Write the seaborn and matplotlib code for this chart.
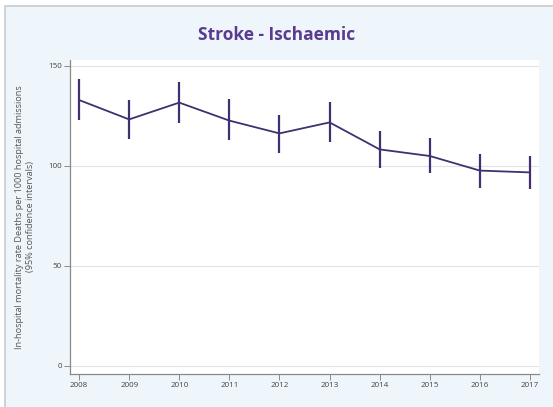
import matplotlib
matplotlib.use("Agg")
import pandas as pd
import seaborn as sns
import matplotlib.pyplot as plt
from matplotlib.patches import Rectangle

years = [2008, 2009, 2010, 2011, 2012, 2013, 2014, 2015, 2016, 2017]
rate = [133.0, 123.3, 131.7, 122.7, 116.3, 121.8, 108.3, 105.0, 97.7, 96.8]
ci_low = [122.8, 113.3, 121.7, 113.0, 106.7, 112.2, 98.8, 96.3, 88.8, 88.5]
ci_high = [143.5, 133.0, 141.8, 133.3, 125.5, 132.2, 117.5, 113.8, 106.0, 105.0]
y_ticks = [0, 50, 100, 150]

df = pd.DataFrame({"year": years, "rate": rate,
                   "low": ci_low, "high": ci_high})

sns.set_style("white")
plt.rcParams['font.family'] = ['Open Sans', 'DejaVu Sans']

LINE = '#40306f'
PANEL = '#eef6fc'

fig = plt.figure(figsize=(5.53, 4.07), dpi=100)
fig.patch.set_facecolor('white')

ax = fig.add_axes([70 / 553, 33 / 407, 469 / 553, 314 / 407])
ax.set_facecolor('white')
ax.set_zorder(2)

# light blue panel with thin grey border, behind the axes
fig.patches.append(Rectangle((5 / 553, -0.02), 1.0, 401 / 407 + 0.02,
                             transform=fig.transFigure, facecolor=PANEL,
                             edgecolor='#c8cbcf', linewidth=1.2,
                             zorder=-1))

# confidence intervals
ax.vlines(df["year"], df["low"], df["high"], color=LINE, linewidth=1.6,
          zorder=3)
sns.lineplot(data=df, x="year", y="rate", color=LINE, linewidth=1.3,
             ax=ax, zorder=4)

ax.set_xlim(2007.82, 2017.18)
ax.set_ylim(-4, 153)
ax.set_xticks(years)
ax.set_xticklabels([str(y) for y in years])
ax.set_yticks(y_ticks)
ax.grid(axis='y', color='#e2e2e2', linewidth=0.8)
ax.set_axisbelow(True)

for side in ['top', 'right']:
    ax.spines[side].set_visible(False)
for side in ['left', 'bottom']:
    ax.spines[side].set_color('#8a8a8a')
    ax.spines[side].set_linewidth(0.9)

ax.tick_params(axis='both', bottom=True, left=True, direction='out',
               length=4, width=0.7, color='#8a8a8a', labelsize=5.8,
               labelcolor='#444444', pad=2)

ax.set_xlabel('')
ax.set_ylabel('In-hospital mortality rate Deaths per 1000 hospital admissions'
              '\n(95% confidence intervals)', fontsize=6.6, color='#555555',
              labelpad=9, linespacing=1.3)

fig.text(0.5, 0.915, 'Stroke - Ischaemic', ha='center', va='center',
         fontsize=12.5, fontweight='bold', color='#5a3b8f')

fig.savefig('out.png', dpi=100, facecolor=fig.get_facecolor())
